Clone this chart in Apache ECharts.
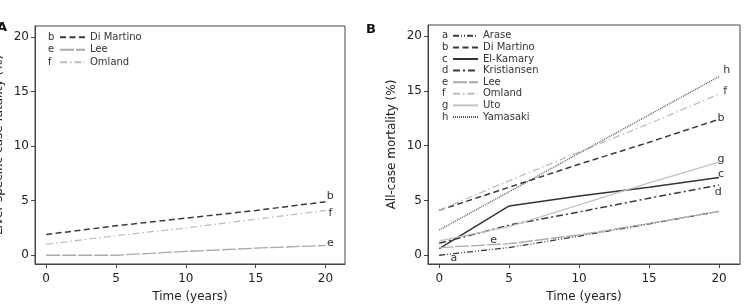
<!DOCTYPE html>
<html>
<head>
<meta charset="utf-8">
<title>Mortality over time</title>
<style>
  html, body { margin: 0; padding: 0; background: #fff; }
  #main { width: 744px; height: 305px; }
</style>
</head>
<body>
<div id="main"></div>
<script src="https://cdn.jsdelivr.net/npm/echarts@6/dist/echarts.min.js"></script>
<script type="text/javascript">
// time points (years)
var years = [0, 5, 10, 15, 20];
var tickValues = [0, 5, 10, 15, 20];

// panel A: liver-specific case fatality (%)
var aDiMartino = [1.9, 2.7, 3.4, 4.1, 4.9];
var aLee = [0, 0, 0.35, 0.65, 0.9];
var aOmland = [1.0, 1.8, 2.5, 3.3, 4.1];

// panel B: all-case mortality (%)
var bArase = [0, 0.7, 1.75, 2.85, 4.0];
var bDiMartino = [4.1, 6.2, 8.3, 10.3, 12.4];
var bElKamary = [0.6, 4.5, 5.4, 6.2, 7.1];
var bKristiansen = [1.1, 2.75, 3.95, 5.2, 6.4];
var bLee = [0.7, 1.05, 1.85, 2.9, 4.0];
var bOmland = [4.1, 6.8, 9.4, 12.0, 14.7];
var bUto = [1.3, 2.6, 4.6, 6.6, 8.5];
var bYamasaki = [2.3, 5.8, 9.3, 12.8, 16.3];

var FONT = 'DejaVu Sans';

// line look per study
var styles = {
    'Arase':       { color: '#3a3a3a', type: [6, 2, 1, 2, 1, 2], width: 1.3 },
    'Di Martino':  { color: '#3a3a3a', type: [6, 3.5], width: 1.5 },
    'El-Kamary':   { color: '#333333', type: 'solid', width: 1.5 },
    'Kristiansen': { color: '#3a3a3a', type: [7, 3, 2, 3], width: 1.5 },
    'Lee':         { color: '#aaaaaa', type: [14, 2], width: 1.3 },
    'Omland':      { color: '#bdbdbd', type: [7, 3, 1.5, 3], width: 1.3 },
    'Uto':         { color: '#c2c2c2', type: 'solid', width: 1.3 },
    'Yamasaki':    { color: '#555555', type: [1, 1], width: 1.3 }
};
var letters = {
    'Arase': 'a', 'Di Martino': 'b', 'El-Kamary': 'c', 'Kristiansen': 'd',
    'Lee': 'e', 'Omland': 'f', 'Uto': 'g', 'Yamasaki': 'h'
};

function pairs(vals) {
    return vals.map(function (v, i) { return [years[i], v]; });
}

function makeSeries(name, vals, idx, labelAt) {
    var s = styles[name];
    return {
        name: name,
        type: 'line',
        xAxisIndex: idx,
        yAxisIndex: idx,
        data: pairs(vals),
        symbol: 'none',
        silent: true,
        lineStyle: { color: s.color, type: s.type, width: s.width },
        itemStyle: { color: s.color },
        markPoint: {
            symbol: 'rect',
            symbolSize: 1,
            itemStyle: { color: 'rgba(0,0,0,0)' },
            label: {
                show: true, position: 'inside', formatter: '{b}',
                color: '#333', fontFamily: FONT, fontSize: 11
            },
            data: [{ name: letters[name], coord: labelAt }]
        }
    };
}

function xAxis(idx, max) {
    return {
        type: 'value', gridIndex: idx, min: -0.8, max: max,
        name: 'Time (years)', nameLocation: 'middle', nameGap: 27,
        nameTextStyle: { fontFamily: FONT, fontSize: 12, color: '#222' },
        axisLine: { show: true, onZero: false, lineStyle: { color: '#444' } },
        axisTick: { show: true, length: 4, customValues: tickValues, lineStyle: { color: '#444' } },
        axisLabel: { customValues: tickValues, fontFamily: FONT, fontSize: 12, color: '#222', margin: 9 },
        splitLine: { show: false }
    };
}

function yAxis(idx, title, gap) {
    return {
        type: 'value', gridIndex: idx, min: -0.8, max: 21,
        name: title, nameLocation: 'middle', nameGap: gap,
        nameTextStyle: { fontFamily: FONT, fontSize: 12, color: '#222' },
        axisLine: { show: true, onZero: false, lineStyle: { color: '#444' } },
        axisTick: { show: true, length: 4, customValues: tickValues, lineStyle: { color: '#444' } },
        axisLabel: { customValues: tickValues, fontFamily: FONT, fontSize: 12, color: '#222', margin: 6 },
        splitLine: { show: false }
    };
}

function legend(names, left, top, rowH) {
    return {
        orient: 'vertical', left: left, top: top, padding: 0,
        data: names, itemWidth: 25, itemHeight: 8, itemGap: 0,
        selectedMode: false,
        itemStyle: { opacity: 0 },
        textStyle: { fontFamily: FONT, fontSize: 10, color: '#333', lineHeight: rowH }
    };
}
function letterLegend(names, left, top, rowH) {
    return {
        orient: 'vertical', left: left, top: top, padding: 0,
        data: names, itemWidth: 0, itemHeight: 0, itemGap: 0,
        selectedMode: false, icon: 'rect',
        itemStyle: { opacity: 0 }, lineStyle: { opacity: 0 },
        formatter: function (n) { return letters[n]; },
        textStyle: { fontFamily: FONT, fontSize: 10, color: '#333', lineHeight: rowH }
    };
}

var namesA = ['Di Martino', 'Lee', 'Omland'];
var namesB = ['Arase', 'Di Martino', 'El-Kamary', 'Kristiansen', 'Lee', 'Omland', 'Uto', 'Yamasaki'];

var myChart = echarts.init(document.getElementById('main'));
var option = {
    backgroundColor: '#fff',
    animation: false,
    grid: [
        { left: 35, top: 26, right: 399, bottom: 41, show: true, borderColor: '#444', borderWidth: 1, outerBoundsMode: 'none' },
        { left: 428, top: 25, right: 4, bottom: 41, show: true, borderColor: '#444', borderWidth: 1, outerBoundsMode: 'none' }
    ],
    xAxis: [xAxis(0, 21.4), xAxis(1, 21.5)],
    yAxis: [
        yAxis(0, 'Liver-specific case fatality (%)', 30),
        yAxis(1, 'All-case mortality (%)', 30)
    ],
    legend: [
        legend(namesA, 59, 31, 12.5),
        letterLegend(namesA, 43, 31, 12.5),
        legend(namesB, 452, 30, 11.6),
        letterLegend(namesB, 437, 30, 11.6)
    ],
    graphic: [
        { type: 'text', left: -3, top: 21, style: { text: 'A', font: 'bold 13px "DejaVu Sans"', fill: '#111' } },
        { type: 'text', left: 366, top: 23, style: { text: 'B', font: 'bold 13px "DejaVu Sans"', fill: '#111' } }
    ],
    series: [
        makeSeries('Di Martino', aDiMartino, 0, [20.35, 5.4]),
        makeSeries('Lee', aLee, 0, [20.35, 1.15]),
        makeSeries('Omland', aOmland, 0, [20.35, 3.9]),

        makeSeries('Arase', bArase, 1, [1.05, -0.3]),
        makeSeries('Di Martino', bDiMartino, 1, [20.15, 12.5]),
        makeSeries('El-Kamary', bElKamary, 1, [20.15, 7.4]),
        makeSeries('Kristiansen', bKristiansen, 1, [19.95, 5.8]),
        makeSeries('Lee', bLee, 1, [3.9, 1.35]),
        makeSeries('Omland', bOmland, 1, [20.45, 15.0]),
        makeSeries('Uto', bUto, 1, [20.15, 8.8]),
        makeSeries('Yamasaki', bYamasaki, 1, [20.55, 16.9])
    ]
};
myChart.setOption(option);
</script>
</body>
</html>
